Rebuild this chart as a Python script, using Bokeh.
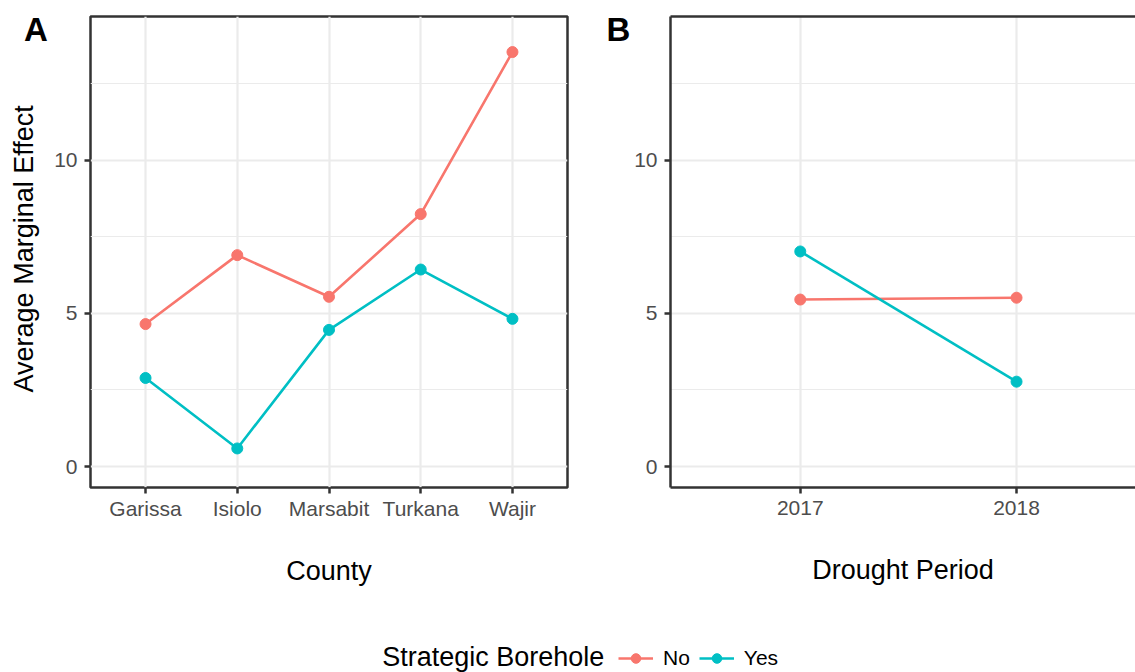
import math
from bokeh.plotting import figure
from bokeh.models import (FactorRange, Range1d, FixedTicker, Legend,
                          LegendItem, LinearAxis, ColumnDataSource)
from bokeh.core.properties import value
from bokeh.layouts import row, column
from bokeh.embed import file_html
from bokeh.resources import INLINE

# ---------------- data ----------------
counties = ["Garissa", "Isiolo", "Marsabit", "Turkana", "Wajir"]
county_no = [4.65, 6.90, 5.54, 8.24, 13.53]
county_yes = [2.89, 0.59, 4.46, 6.43, 4.82]

years = [2017, 2018]
year_no = [5.45, 5.51]
year_yes = [7.02, 2.77]

y_ticks = [0, 5, 10]
y_minor = [2.5, 7.5, 12.5]
series_labels = ["No", "Yes"]
legend_title = "Strategic Borehole"
panel_tags = ["A", "B"]
x_titles = ["County", "Drought Period"]
y_title = "Average Marginal Effect"

# ---------------- style ----------------
RED = "#F8766D"
TEAL = "#00BFC4"
FONT = "Liberation Sans"
Y0, Y1 = -0.685, 14.69
LW = 2.6
PS = 11
TOP_H = 600


def style(p):
    p.background_fill_color = "white"
    p.border_fill_color = "white"
    p.yaxis.ticker = FixedTicker(ticks=y_ticks, minor_ticks=y_minor)
    p.ygrid.ticker = FixedTicker(ticks=y_ticks, minor_ticks=y_minor)
    p.grid.grid_line_color = "#EBEBEB"
    p.grid.grid_line_width = 2.2
    p.ygrid.minor_grid_line_color = "#EBEBEB"
    p.ygrid.minor_grid_line_width = 1.1
    for ax in list(p.xaxis) + list(p.yaxis):
        ax.major_tick_line_color = "#333333"
        ax.major_tick_line_width = 2.5
        ax.major_tick_out = 6
        ax.major_tick_in = 0
        ax.minor_tick_line_color = None
        ax.major_label_text_font = FONT
        ax.major_label_text_font_size = "21px"
        ax.major_label_text_color = "#4D4D4D"
        ax.axis_label_text_font = FONT
        ax.axis_label_text_font_size = "27px"
        ax.axis_label_text_font_style = "normal"
        ax.axis_label_text_color = "black"
    p.xaxis.major_label_standoff = 3
    p.yaxis.major_label_standoff = 7
    p.xaxis.axis_label_standoff = 33


def strip(width, height):
    # a blank canvas whose data units equal its pixels (origin bottom-left)
    s = figure(width=width, height=height, x_range=Range1d(0, width),
               y_range=Range1d(0, height), x_axis_type=None, y_axis_type=None,
               min_border=0, min_border_left=0, min_border_right=0,
               min_border_top=0, min_border_bottom=0,
               output_backend="svg", toolbar_location=None)
    s.outline_line_color = None
    s.grid.visible = False
    s.background_fill_color = "white"
    s.border_fill_color = "white"
    return s


def tag(s, text, x):
    s.text(x=[x], y=[TOP_H - 16], text=[text], text_font=value(FONT),
           text_font_style="bold", text_font_size="33px",
           text_align="center", text_baseline="alphabetic",
           text_color="black")


# ---------------- strip left of panel A (tag + y title) ----------------
sA = strip(50, TOP_H)
tag(sA, panel_tags[0], 35.5)
sA.text(x=[23], y=[TOP_H - 296], text=[y_title], angle=math.pi / 2,
        angle_units="rad", text_font=value(FONT), text_font_size="27px",
        text_align="center", text_baseline="alphabetic", text_color="black")

# ---------------- panel A ----------------
srcA = ColumnDataSource(dict(x=counties, no=county_no, yes=county_yes))
pA = figure(x_range=FactorRange(factors=counties, range_padding=0.1,
                                range_padding_units="absolute"),
            y_range=Range1d(Y0, Y1),
            frame_width=477, frame_height=471,
            min_border_left=40, min_border_right=23,
            min_border_top=16, min_border_bottom=113,
            output_backend="svg", toolbar_location=None)
style(pA)
pA.outline_line_color = "#333333"
pA.outline_line_width = 2.5
pA.outline_line_alpha = 1.0
pA.xaxis.axis_line_color = None
pA.yaxis.axis_line_color = None
pA.xaxis.axis_label = x_titles[0]

pA.line("x", "no", source=srcA, color=RED, line_width=LW)
pA.scatter("x", "no", source=srcA, color=RED, size=PS)
pA.line("x", "yes", source=srcA, color=TEAL, line_width=LW)
pA.scatter("x", "yes", source=srcA, color=TEAL, size=PS)

# ---------------- strip left of panel B (tag) ----------------
sB = strip(40, TOP_H)
tag(sB, panel_tags[1], 28)

# ---------------- panel B ----------------
srcB = ColumnDataSource(dict(x=years, no=year_no, yes=year_yes))
pB = figure(x_range=Range1d(2016.4, 2018.55), y_range=Range1d(Y0, Y1),
            frame_width=465, frame_height=471,
            min_border_left=40, min_border_right=0,
            min_border_top=16, min_border_bottom=113,
            output_backend="svg", toolbar_location=None)
style(pB)
pB.xaxis.ticker = FixedTicker(ticks=years, minor_ticks=[])
pB.xgrid.ticker = FixedTicker(ticks=years, minor_ticks=[])
pB.xaxis.major_label_standoff = 7
pB.xaxis.axis_label_standoff = 37
pB.outline_line_color = None
for ax in list(pB.xaxis) + list(pB.yaxis):
    ax.axis_line_color = "#333333"
    ax.axis_line_width = 2.5
top_axis = LinearAxis(ticker=FixedTicker(ticks=[], minor_ticks=[]),
                      axis_line_color="#333333", axis_line_width=2.5,
                      major_tick_line_color=None, minor_tick_line_color=None,
                      major_label_text_font_size="0px")
pB.add_layout(top_axis, "above")
pB.xaxis.axis_label = x_titles[1]
top_axis.axis_label = None

pB.line("x", "no", source=srcB, color=RED, line_width=LW)
pB.scatter("x", "no", source=srcB, color=RED, size=PS)
pB.line("x", "yes", source=srcB, color=TEAL, line_width=LW)
pB.scatter("x", "yes", source=srcB, color=TEAL, size=PS)

# ---------------- legend strip ----------------
LEG_H = 72
pL = strip(1135, LEG_H)
dummy = ColumnDataSource(dict(x=[float("nan")], y=[float("nan")]))
items = []
for lab, col in zip(series_labels, [RED, TEAL]):
    rl = pL.line("x", "y", source=dummy, color=col, line_width=LW)
    rs = pL.scatter("x", "y", source=dummy, color=col, size=PS)
    items.append(LegendItem(label=lab, renderers=[rl, rs]))
legend = Legend(items=items, orientation="horizontal", location=(618, 2),
                glyph_width=35, glyph_height=24, label_height=24,
                label_standoff=10, spacing=9, padding=0, margin=0,
                border_line_color=None, background_fill_alpha=0,
                label_text_font=FONT, label_text_font_size="21px",
                label_text_color="black")
pL.add_layout(legend)
pL.text(x=[381.7], y=[16], text=[legend_title], text_font=value(FONT),
        text_font_size="27px", text_align="left", text_baseline="alphabetic",
        text_color="black")

layout = column(row(sA, pA, sB, pB), pL)
open("out.html", "w").write(file_html(layout, INLINE))
